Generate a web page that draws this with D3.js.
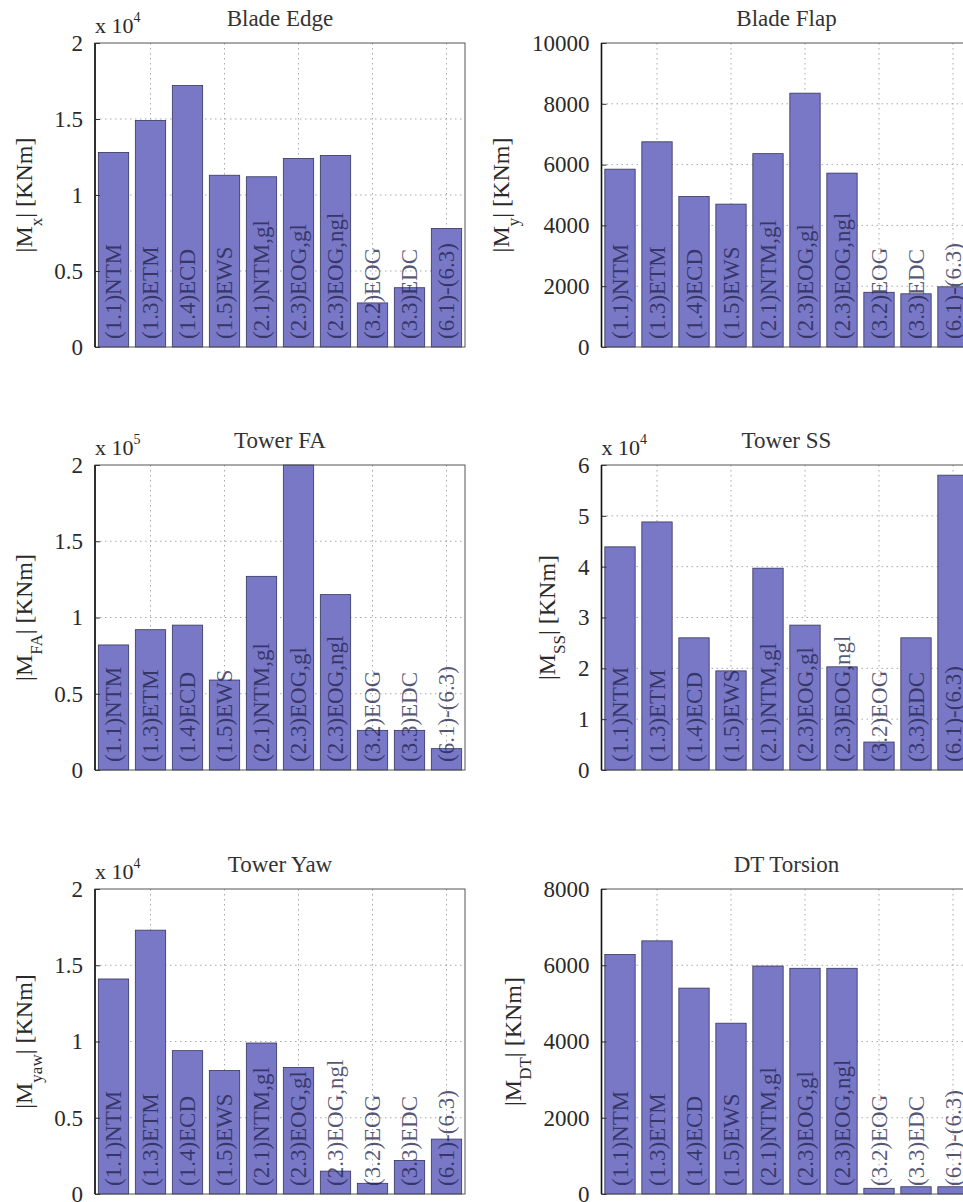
<!DOCTYPE html>
<html>
<head>
<meta charset="utf-8">
<script src="https://cdn.jsdelivr.net/npm/d3@7"></script>
<style>
  body { margin: 0; background: #fff; }
  svg text { font-family: "Times New Roman", "Liberation Serif", Tinos, "DejaVu Serif", "Noto Serif", Times, serif; }
</style>
</head>
<body>
<div id="vis"></div>
<script>
// load cases, one bar each
var categories = ["(1.1)NTM", "(1.3)ETM", "(1.4)ECD", "(1.5)EWS", "(2.1)NTM,gl",
                  "(2.3)EOG,gl", "(2.3)EOG,ngl", "(3.2)EOG", "(3.3)EDC", "(6.1)-(6.3)"];

// max moments [KNm]
var bladeEdge = [12800, 14900, 17200, 11300, 11200, 12400, 12600, 2900, 3900, 7800];
var bladeFlap = [5850, 6750, 4950, 4700, 6360, 8350, 5720, 1800, 1750, 1980];
var towerFA   = [82000, 92000, 95000, 59000, 127000, 200000, 115000, 26000, 26000, 14000];
var towerSS   = [43900, 48800, 26000, 19500, 39700, 28500, 20300, 5500, 26000, 58000];
var towerYaw  = [14100, 17300, 9400, 8100, 9900, 8300, 1500, 700, 2200, 3600];
var dtTorsion = [6280, 6640, 5400, 4480, 5980, 5920, 5920, 150, 190, 190];

// y tick labels (in the units shown on the axis)
var edgeTicks = [0, 0.5, 1, 1.5, 2];
var flapTicks = [0, 2000, 4000, 6000, 8000, 10000];
var faTicks   = [0, 0.5, 1, 1.5, 2];
var ssTicks   = [0, 1, 2, 3, 4, 5, 6];
var yawTicks  = [0, 0.5, 1, 1.5, 2];
var dtTicks   = [0, 2000, 4000, 6000, 8000];
var xGridTicks = [2, 4, 6, 8, 10];

var W = 963, H = 1202;
var barColor = "#7878c6";
var barWidth = 0.82;
var FONT = '"Times New Roman", "Liberation Serif", Tinos, "DejaVu Serif", serif';

var panels = [
  {title: "Blade Edge", sub: "x",   data: bladeEdge, ticks: edgeTicks, exp: 4, col: 0, row: 0},
  {title: "Blade Flap", sub: "y",   data: bladeFlap, ticks: flapTicks, exp: 0, col: 1, row: 0},
  {title: "Tower FA",   sub: "FA",  data: towerFA,   ticks: faTicks,   exp: 5, col: 0, row: 1},
  {title: "Tower SS",   sub: "SS",  data: towerSS,   ticks: ssTicks,   exp: 4, col: 1, row: 1},
  {title: "Tower Yaw",  sub: "yaw", data: towerYaw,  ticks: yawTicks,  exp: 4, col: 0, row: 2},
  {title: "DT Torsion", sub: "DT",  data: dtTorsion, ticks: dtTicks,   exp: 0, col: 1, row: 2}
];

var colX = [[95, 465], [601.5, 971.5]];
var rowY = [[43, 347], [465, 770], [889, 1194]];

var svg = d3.select("#vis").append("svg")
  .attr("width", W)
  .attr("height", H)
  .attr("font-family", FONT);

svg.append("rect").attr("width", W).attr("height", H).attr("fill", "#fff");

panels.forEach(function (p) {
  var x0 = colX[p.col][0], x1 = colX[p.col][1];
  var yt = rowY[p.row][0], yb = rowY[p.row][1];
  var factor = Math.pow(10, p.exp);
  var ymax = p.ticks[p.ticks.length - 1];

  var x = d3.scaleLinear().domain([0.5, 10.5]).range([x0, x1]);
  var y = d3.scaleLinear().domain([0, ymax]).range([yb, yt]);

  var g = svg.append("g");

  // grid
  g.selectAll(".hgrid").data(p.ticks.slice(1, -1)).enter().append("line")
    .attr("x1", x0).attr("x2", x1)
    .attr("y1", function (d) { return y(d); })
    .attr("y2", function (d) { return y(d); })
    .attr("stroke", "#a8a8a8").attr("stroke-width", 1)
    .attr("stroke-dasharray", "1.5,3.5");
  g.selectAll(".vgrid").data(xGridTicks).enter().append("line")
    .attr("y1", yt).attr("y2", yb)
    .attr("x1", function (d) { return x(d); })
    .attr("x2", function (d) { return x(d); })
    .attr("stroke", "#a8a8a8").attr("stroke-width", 1)
    .attr("stroke-dasharray", "1.5,3.5");

  // bars
  g.selectAll(".bar").data(p.data).enter().append("rect")
    .attr("x", function (d, i) { return x(i + 1 - barWidth / 2); })
    .attr("width", x(barWidth) - x(0))
    .attr("y", function (d) { return y(Math.min(d / factor, ymax)); })
    .attr("height", function (d) { return yb - y(Math.min(d / factor, ymax)); })
    .attr("fill", barColor)
    .attr("stroke", "#34345e").attr("stroke-width", 0.8);

  // labels written up each bar
  g.selectAll(".lbl").data(categories).enter().append("text")
    .attr("transform", function (d, i) { return "translate(" + x(i + 1) + "," + (yb - 8) + ") rotate(-90)"; })
    .attr("dy", "0.34em")
    .attr("font-size", 23)
    .attr("fill", "#20204a").attr("fill-opacity", 0.75)
    .text(function (d) { return d; });

  // axes box
  g.append("rect")
    .attr("x", x0).attr("y", yt)
    .attr("width", x1 - x0).attr("height", yb - yt)
    .attr("fill", "none").attr("stroke", "#555").attr("stroke-width", 1);
  g.append("line")
    .attr("x1", x0).attr("x2", x0).attr("y1", yt).attr("y2", yb)
    .attr("stroke", "#111").attr("stroke-width", 1.6);

  // y axis ticks
  var axis = d3.axisLeft(y).tickValues(p.ticks).tickSizeInner(-5).tickSizeOuter(0)
    .tickPadding(12).tickFormat(function (d) { return String(d); });
  var ag = g.append("g").attr("transform", "translate(" + x0 + ",0)").call(axis)
    .attr("font-family", FONT).attr("font-size", 23);
  ag.select(".domain").remove();
  ag.selectAll("line").attr("stroke", "#333");
  ag.selectAll("text").attr("fill", "#2a2a2a");

  var maxw = 0;
  ag.selectAll("text").each(function () { maxw = Math.max(maxw, this.getComputedTextLength()); });

  // y label
  var yl = g.append("text")
    .attr("transform", "translate(" + (x0 - 12 - maxw - 31) + "," + ((yt + yb) / 2) + ") rotate(-90)")
    .attr("text-anchor", "middle")
    .attr("dy", "0.35em")
    .attr("font-size", 24)
    .attr("fill", "#2a2a2a");
  yl.append("tspan").text("|M");
  yl.append("tspan").attr("font-size", 17).attr("baseline-shift", "sub").text(p.sub);
  yl.append("tspan").text("| [KNm]");

  // title
  g.append("text")
    .attr("x", (x0 + x1) / 2).attr("y", yt - 17)
    .attr("text-anchor", "middle")
    .attr("font-size", 23)
    .attr("fill", "#333")
    .text(p.title);

  // exponent
  if (p.exp) {
    var ex = g.append("text")
      .attr("x", x0).attr("y", yt - 10)
      .attr("font-size", 22)
      .attr("fill", "#2a2a2a");
    ex.append("tspan").text("x 10");
    ex.append("tspan").attr("font-size", 14).attr("dy", -11).text(p.exp);
  }
});
</script>
</body>
</html>
